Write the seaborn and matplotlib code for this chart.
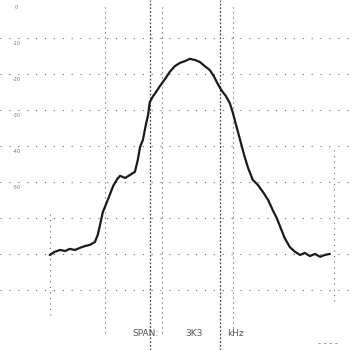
import pandas as pd
import matplotlib.pyplot as plt
import seaborn as sns

# frequency in divisions, level in dB
freq = [0.03, 0.12, 0.21, 0.30, 0.38, 0.47, 0.56, 0.65, 0.73, 0.82, 0.87, 0.91,
        0.96, 1.01, 1.08, 1.14, 1.21, 1.26, 1.35, 1.43, 1.52, 1.57, 1.61, 1.66,
        1.71, 1.75, 1.78, 1.84, 1.89, 1.96, 2.01, 2.06, 2.13, 2.22, 2.31, 2.40,
        2.48, 2.57, 2.66, 2.74, 2.83, 2.90, 2.97, 3.04, 3.11, 3.18, 3.23, 3.29,
        3.36, 3.43, 3.50, 3.58, 3.67, 3.76, 3.85, 3.93, 4.00, 4.07, 4.14, 4.23,
        4.32, 4.41, 4.49, 4.58, 4.67, 4.76, 4.84, 4.93]
level = [-70.3, -69.4, -68.9, -69.2, -68.6, -68.9, -68.3, -67.8, -67.5, -66.7, -64.7, -61.9,
         -58.3, -56.4, -53.6, -51.1, -49.2, -48.3, -48.9, -48.1, -47.2, -43.9, -40.3, -38.3,
         -34.2, -31.4, -27.8, -26.1, -25.0, -23.3, -22.2, -21.1, -19.4, -17.8, -16.9, -16.4,
         -15.8, -16.1, -16.7, -17.8, -18.9, -20.6, -22.8, -24.7, -26.1, -28.1, -30.6, -34.2,
         -38.3, -42.5, -46.1, -49.4, -50.8, -52.8, -55.0, -57.8, -60.0, -62.8, -65.6, -68.1,
         -69.4, -70.3, -69.7, -70.6, -70.0, -70.8, -70.3, -70.0]

grid_x = [1.0, 2.0, 3.23]
marker_x = [1.78, 3.0]
grid_y = [-10, -20, -30, -40, -50, -60, -70, -80]
ref_labels = ["0", "-10", "-20", "-30", "-40", "-50"]
span_words = ["SPAN:", "3K3", "kHz"]
span_pos = [1.7, 2.55, 3.28]

df = pd.DataFrame({"freq": freq, "level": level})

sns.set_style("white")
fig = plt.figure(figsize=(3.55, 3.5), dpi=100)
ax = fig.add_axes([0, 0, 1, 1])

for x in grid_x:
    ax.axvline(x, color="#555555", lw=0.8, ls=(0, (1, 3.5)), ymin=0.05, ymax=0.98)
for x in marker_x:
    ax.axvline(x, color="#444444", lw=0.9, ls=(0, (1.5, 1.5)))
ax.plot([0.03, 0.03], [-59, -87], color="#666666", lw=0.8, ls=(0, (1, 4)))
ax.plot([5.0, 5.0], [-41, -84], color="#666666", lw=0.8, ls=(0, (1, 4)))
for y in grid_y:
    ax.axhline(y, color="#666666", lw=0.8, ls=(0, (1, 7)))

sns.lineplot(data=df, x="freq", y="level", color="#1a1a1a", lw=1.6, ax=ax)

for i, lab in enumerate(ref_labels):
    ax.text(-0.55, -1.5 - 10 * i, lab, fontsize=3.5, color="#777777",
            ha="center", va="center")

for word, xpos in zip(span_words, span_pos):
    ax.text(xpos, -92, word, fontsize=6.5, color="#555555", ha="center", va="center")
ax.text(4.9, -95, "- - - -", fontsize=6, color="#777777", ha="center", va="center")

ax.set_xlim(-0.84, 5.37)
ax.set_ylim(-96.7, 0.56)
ax.set_axis_off()

fig.savefig("out.png", dpi=100)
